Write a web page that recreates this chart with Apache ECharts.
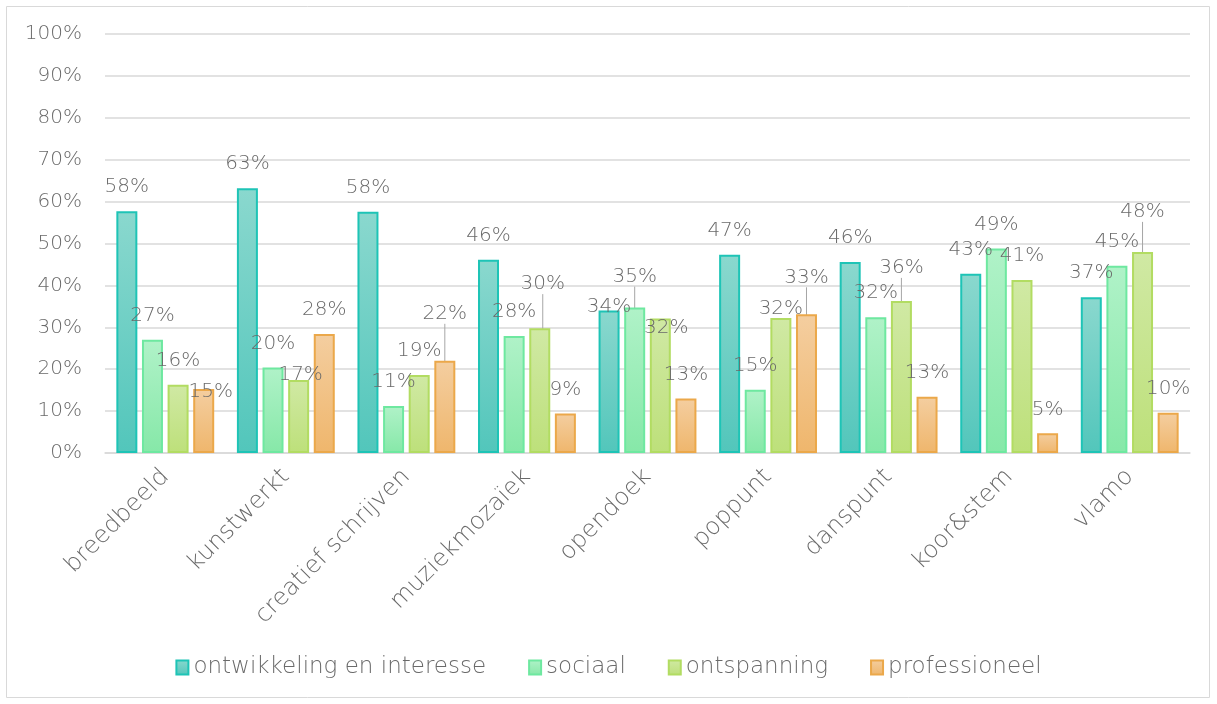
<!DOCTYPE html>
<html><head><meta charset="utf-8">
<script src="https://cdn.jsdelivr.net/npm/echarts@6/dist/echarts.min.js"></script>
<style>html,body{margin:0;padding:0;background:#fff}#c{width:1217px;height:704px}</style>
</head><body><div id="c"></div>
<script>
const categories = ['breedbeeld','kunstwerkt','creatief schrijven','muziekmozaïek','opendoek','poppunt','danspunt','koor&stem','vlamo'];
const seriesNames = ['ontwikkeling en interesse','sociaal','ontspanning','professioneel'];
const ontwikkeling = [57.7, 63.2, 57.6, 46.1, 34.0, 47.3, 45.6, 42.8, 37.2];
const sociaal      = [27.0, 20.4, 11.2, 27.9, 34.7, 15.1, 32.4, 48.8, 44.7];
const ontspanning  = [16.3, 17.4, 18.6, 29.8, 32.1, 32.2, 36.3, 41.3, 48.0];
const professioneel= [15.3, 28.4, 22.0,  9.4, 13.0, 33.1, 13.4,  4.7,  9.6];
const yTicks = [0,10,20,30,40,50,60,70,80,90,100];

const FONT = 'DejaVu Sans';
const GRAY = '#6a6a6a';
const styles = [
  {border:'#1ec4b6', top:'#8ad8ce', bottom:'#52c6bb'},
  {border:'#6ee8a0', top:'#b0f2c8', bottom:'#86e8a8'},
  {border:'#b2dc62', top:'#d0e9a4', bottom:'#bde07a'},
  {border:'#eba84a', top:'#f4cea0', bottom:'#efb66c'}
];
const dataArr = [ontwikkeling, sociaal, ontspanning, professioneel];

// label nudges (series,dataIndex) -> [dx, dy, leaderLine] mimicking the moved labels of the original
const labelMoves = {
  '3,0':[7,27,false], '2,1':[2,19,false], '3,2':[0,-23,true], '2,3':[3,-20,true],
  '0,4':[0,20,false], '1,4':[0,-7,true], '2,4':[6,33,false], '2,5':[0,15,false],
  '3,5':[0,-13,true], '2,6':[0,-9,true], '2,8':[0,-16,true]
};

const chart = echarts.init(document.getElementById('c'), null, {renderer:'canvas'});
chart.setOption({
  animation:false,
  textStyle:{fontFamily:FONT},
  graphic:[{type:'rect', shape:{x:6.5,y:6.5,width:1203,height:691}, style:{fill:'none', stroke:'#d9d9d9', lineWidth:1}, silent:true, z:-10}],
  grid:{left:105, right:27, top:34, bottom:251},
  legend:{
    bottom:20, left:'center', icon:'rect', itemWidth:12, itemHeight:14, itemGap:42,
    textStyle:{color:GRAY, fontSize:23, fontFamily:FONT, fontWeight:200},
    data:seriesNames
  },
  xAxis:{
    type:'category', data:categories,
    axisLine:{lineStyle:{color:'#d9d9d9', width:1.5}},
    axisTick:{show:false},
    axisLabel:{rotate:45, color:GRAY, fontSize:24, fontFamily:FONT, fontWeight:200, margin:20, interval:0}
  },
  yAxis:{
    type:'value', min:0, max:100, interval:10,
    axisLine:{show:false}, axisTick:{show:false},
    splitLine:{lineStyle:{color:'#d9d9d9', width:1.5}},
    axisLabel:{color:GRAY, fontSize:20, fontFamily:FONT, fontWeight:200, margin:23, formatter:v=>v+'%'}
  },
  series: dataArr.map((d,i)=>({
    name:seriesNames[i], type:'bar',
    data:d.map((v,j)=>{
      const m = labelMoves[i+','+j];
      return {value:v, labelLine:{show: !!(m && m[2])}};
    }),
    barWidth:21, barGap:'22%',
    itemStyle:{
      color:new echarts.graphic.LinearGradient(0,0,0,1,[{offset:0,color:styles[i].top},{offset:1,color:styles[i].bottom}]),
      borderColor:styles[i].border, borderWidth:2
    },
    label:{show:true, position:'top', distance:14, color:GRAY, fontSize:20, fontFamily:FONT, fontWeight:200,
      formatter:p=>Math.round(p.value)+'%'},
    labelLine:{show:false, lineStyle:{color:'#a6a6a6', width:1}},
    labelLayout:function(p){
      const m = labelMoves[p.seriesIndex+','+p.dataIndex];
      return m ? {dx:m[0], dy:m[1]} : {};
    }
  }))
});
</script></body></html>
